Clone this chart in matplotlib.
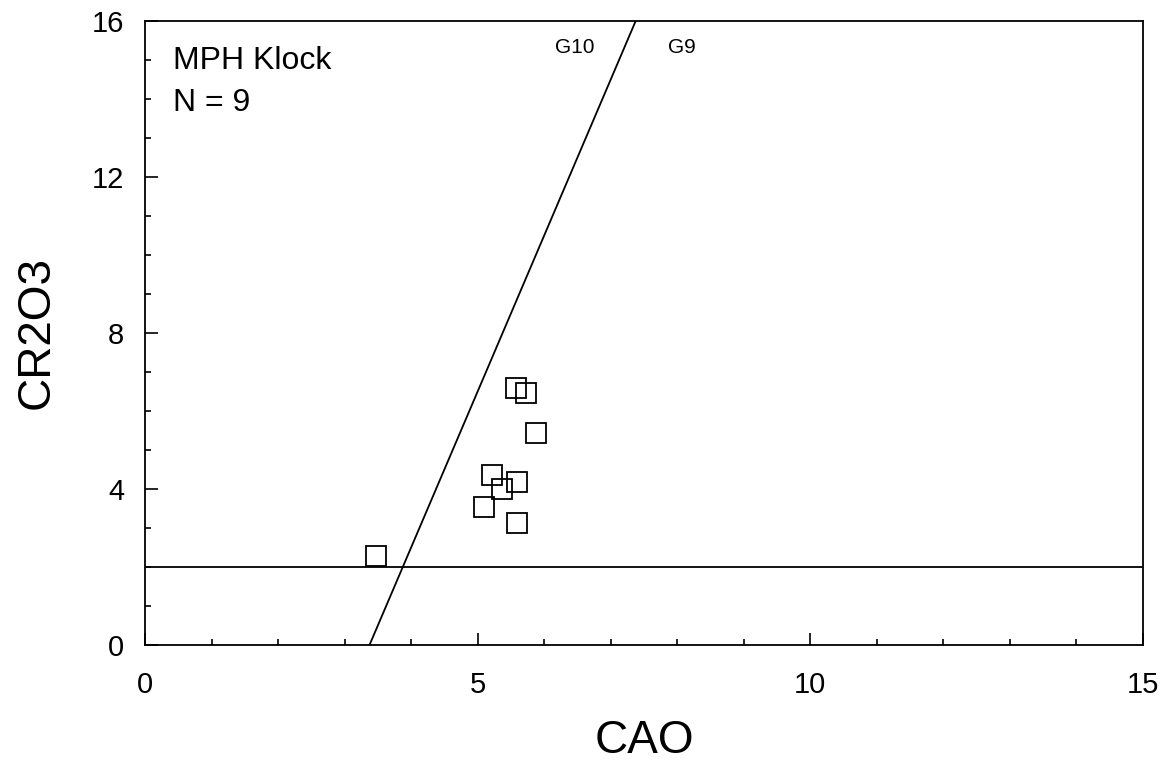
import numpy as np
import matplotlib
matplotlib.use("Agg")
import matplotlib.pyplot as plt
from matplotlib.ticker import MultipleLocator

plt.rcParams['font.family'] = ['Liberation Sans', 'DejaVu Sans']

# Garnet analyses (wt%)
cao = [5.58, 5.73, 5.87, 5.21, 5.59, 5.37, 5.09, 5.59, 3.47]
cr2o3 = [6.59, 6.46, 5.44, 4.36, 4.19, 4.00, 3.55, 3.13, 2.29]

# G10 / G9 boundary: CaO = 3.375 + 0.25 * Cr2O3
g10_cr = [0, 16]
g10_ca = [3.375 + 0.25 * c for c in g10_cr]
cr_cut = 2.0

fig = plt.figure(figsize=(11.71, 7.64), dpi=100)
ax = fig.add_axes([0.1238, 0.1558, 0.8523, 0.8167])

ax.plot(cao, cr2o3, ls='none', marker='s', markersize=14,
        markerfacecolor='none', markeredgecolor='black', markeredgewidth=1.3)
ax.plot(g10_ca, g10_cr, color='black', lw=1.3)
ax.axhline(cr_cut, color='black', lw=1.3)

ax.set_xlim(0, 15)
ax.set_ylim(0, 16)
ax.xaxis.set_major_locator(MultipleLocator(5))
ax.xaxis.set_minor_locator(MultipleLocator(1))
ax.yaxis.set_major_locator(MultipleLocator(4))
ax.yaxis.set_minor_locator(MultipleLocator(1))
ax.tick_params(which='both', direction='in', top=False, right=False, width=1.2)
ax.tick_params(which='major', length=9, labelsize=21)
ax.tick_params(which='minor', length=4.5)
ax.tick_params(axis='x', which='major', pad=19)
ax.tick_params(axis='y', which='major', pad=15)
for s in ax.spines.values():
    s.set_linewidth(1.3)

ax.set_xlabel('CAO', fontsize=33, labelpad=14)
ax.set_ylabel('CR2O3', fontsize=33, labelpad=24)

ax.text(0.42, 14.97, 'MPH Klock', fontsize=23, va='center')
ax.text(0.42, 13.9, 'N = 9', fontsize=23, va='center')
ax.text(6.46, 15.33, 'G10', fontsize=15, ha='center', va='center')
ax.text(8.07, 15.33, 'G9', fontsize=15, ha='center', va='center')

fig.savefig('out.png', dpi=100)
